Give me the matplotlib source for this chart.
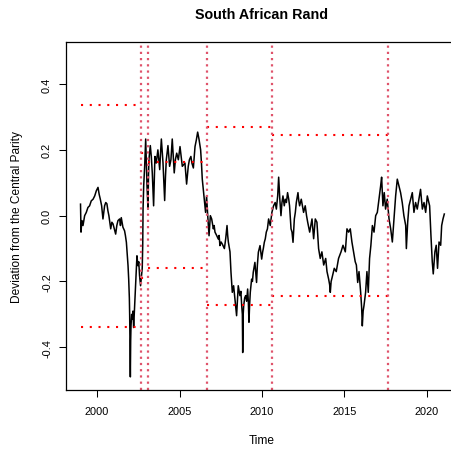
import matplotlib
matplotlib.use("Agg")
import matplotlib.pyplot as plt

plt.rcParams['font.family'] = ['Liberation Sans', 'DejaVu Sans']

title = "South African Rand"
xlabel = "Time"
ylabel = "Deviation from the Central Parity"

time = [1999.00, 1999.03, 1999.08, 1999.15, 1999.25, 1999.35, 1999.45, 1999.55, 1999.65, 1999.76,
        1999.86, 1999.96, 2000.06, 2000.13, 2000.20, 2000.28, 2000.36, 2000.46, 2000.53, 2000.60,
        2000.66, 2000.72, 2000.83, 2000.90, 2000.97, 2001.05, 2001.13, 2001.20, 2001.27, 2001.37,
        2001.42, 2001.47, 2001.57, 2001.67, 2001.72, 2001.78, 2001.82, 2001.88, 2001.92, 2001.96,
        2001.98, 2002.00, 2002.02, 2002.04, 2002.06, 2002.10, 2002.14, 2002.18, 2002.22, 2002.28,
        2002.34, 2002.38, 2002.42, 2002.48, 2002.53, 2002.58, 2002.64, 2002.70, 2002.74, 2002.77,
        2002.79, 2002.83, 2002.89, 2002.95, 2003.00, 2003.03, 2003.09, 2003.12, 2003.15, 2003.23,
        2003.29, 2003.35, 2003.43, 2003.47, 2003.51, 2003.59, 2003.69, 2003.80, 2003.85, 2003.90,
        2004.00, 2004.10, 2004.15, 2004.20, 2004.30, 2004.40, 2004.48, 2004.56, 2004.62, 2004.68,
        2004.75, 2004.83, 2004.93, 2005.03, 2005.10, 2005.17, 2005.33, 2005.43, 2005.53, 2005.60,
        2005.69, 2005.75, 2005.84, 2005.94, 2006.02, 2006.10, 2006.18, 2006.28, 2006.33, 2006.38,
        2006.44, 2006.50, 2006.58, 2006.64, 2006.71, 2006.79, 2006.87, 2006.95, 2007.05, 2007.10,
        2007.15, 2007.25, 2007.35, 2007.40, 2007.45, 2007.52, 2007.59, 2007.72, 2007.80, 2007.88,
        2007.92, 2007.96, 2008.06, 2008.12, 2008.20, 2008.28, 2008.36, 2008.46, 2008.52, 2008.56,
        2008.66, 2008.72, 2008.77, 2008.81, 2008.83, 2008.86, 2008.89, 2008.95, 2009.01, 2009.07,
        2009.13, 2009.17, 2009.21, 2009.25, 2009.29, 2009.37, 2009.42, 2009.47, 2009.57, 2009.67,
        2009.72, 2009.78, 2009.88, 2009.98, 2010.04, 2010.08, 2010.14, 2010.20, 2010.26, 2010.33,
        2010.40, 2010.50, 2010.60, 2010.70, 2010.80, 2010.87, 2010.95, 2011.01, 2011.08, 2011.15,
        2011.21, 2011.27, 2011.35, 2011.41, 2011.48, 2011.55, 2011.62, 2011.67, 2011.76, 2011.82,
        2011.88, 2011.96, 2012.02, 2012.08, 2012.18, 2012.23, 2012.28, 2012.38, 2012.45, 2012.52,
        2012.62, 2012.70, 2012.77, 2012.89, 2012.96, 2013.03, 2013.08, 2013.13, 2013.23, 2013.33,
        2013.43, 2013.53, 2013.63, 2013.74, 2013.86, 2013.94, 2014.04, 2014.10, 2014.14, 2014.19,
        2014.24, 2014.38, 2014.50, 2014.64, 2014.79, 2014.91, 2015.05, 2015.15, 2015.25, 2015.35,
        2015.45, 2015.55, 2015.65, 2015.72, 2015.80, 2015.88, 2015.98, 2016.04, 2016.08, 2016.13,
        2016.18, 2016.28, 2016.36, 2016.44, 2016.52, 2016.60, 2016.69, 2016.79, 2016.89, 2016.99,
        2017.09, 2017.19, 2017.25, 2017.33, 2017.41, 2017.49, 2017.59, 2017.70, 2017.80, 2017.90,
        2018.00, 2018.10, 2018.20, 2018.30, 2018.40, 2018.50, 2018.60, 2018.71, 2018.75, 2018.83,
        2018.91, 2019.01, 2019.11, 2019.21, 2019.31, 2019.41, 2019.51, 2019.61, 2019.72, 2019.82,
        2019.92, 2020.02, 2020.16, 2020.24, 2020.32, 2020.38, 2020.48, 2020.56, 2020.64, 2020.73,
        2020.83, 2020.89, 2020.97, 2021.05]

deviation = [0.035, -0.050, -0.015, -0.030, 0.000, 0.010, 0.025, 0.030, 0.045, 0.050,
             0.060, 0.076, 0.086, 0.065, 0.050, 0.030, -0.010, 0.030, 0.040, 0.036,
             0.015, 0.000, -0.040, -0.020, -0.025, -0.040, -0.056, -0.030, -0.015, -0.010,
             -0.030, -0.006, -0.035, -0.046, -0.060, -0.081, -0.111, -0.152, -0.193, -0.250,
             -0.304, -0.395, -0.490, -0.380, -0.335, -0.300, -0.315, -0.290, -0.340, -0.274,
             -0.213, -0.170, -0.122, -0.152, -0.140, -0.183, -0.213, -0.183, -0.160, -0.091,
             0.020, 0.091, 0.152, 0.233, 0.150, 0.091, 0.020, 0.120, 0.172, 0.213,
             0.180, 0.130, 0.030, 0.110, 0.180, 0.160, 0.200, 0.140, 0.190, 0.233,
             0.160, 0.046, 0.120, 0.170, 0.213, 0.150, 0.170, 0.233, 0.180, 0.130,
             0.170, 0.190, 0.170, 0.210, 0.180, 0.150, 0.160, 0.096, 0.150, 0.170,
             0.180, 0.160, 0.145, 0.210, 0.230, 0.254, 0.233, 0.200, 0.160, 0.111,
             0.080, 0.050, 0.010, 0.060, 0.000, -0.061, 0.000, -0.010, -0.040, -0.030,
             -0.050, -0.060, -0.071, -0.060, -0.091, -0.080, -0.086, -0.100, -0.070, -0.030,
             -0.060, -0.080, -0.110, -0.172, -0.233, -0.213, -0.254, -0.304, -0.250, -0.213,
             -0.243, -0.230, -0.274, -0.300, -0.416, -0.300, -0.274, -0.250, -0.243, -0.260,
             -0.223, -0.260, -0.324, -0.270, -0.233, -0.193, -0.200, -0.172, -0.142, -0.203,
             -0.150, -0.111, -0.091, -0.132, -0.110, -0.100, -0.081, -0.070, -0.050, -0.040,
             -0.010, -0.030, 0.010, 0.030, 0.040, 0.020, 0.060, 0.117, 0.050, 0.000,
             0.040, 0.060, 0.030, 0.050, 0.040, 0.070, 0.050, 0.030, -0.040, -0.050,
             -0.081, -0.010, 0.010, 0.040, 0.070, 0.045, 0.030, 0.050, 0.030, 0.010,
             0.030, 0.000, -0.020, -0.050, -0.030, -0.010, -0.040, -0.070, -0.010, -0.020,
             -0.100, -0.130, -0.110, -0.150, -0.130, -0.170, -0.193, -0.210, -0.233, -0.200,
             -0.190, -0.160, -0.170, -0.130, -0.110, -0.090, -0.110, -0.040, -0.050, -0.040,
             -0.080, -0.110, -0.140, -0.150, -0.203, -0.170, -0.233, -0.280, -0.335, -0.290,
             -0.274, -0.233, -0.170, -0.233, -0.130, -0.090, -0.030, -0.050, 0.000, 0.010,
             0.050, 0.090, 0.117, 0.030, 0.070, 0.020, 0.050, -0.010, -0.040, -0.080,
             -0.010, 0.060, 0.111, 0.090, 0.070, 0.040, 0.000, -0.030, -0.100, -0.020,
             0.030, 0.050, 0.070, 0.010, 0.040, 0.020, 0.050, 0.080, 0.020, 0.040,
             0.010, 0.060, 0.030, -0.060, -0.140, -0.177, -0.110, -0.090, -0.160, -0.080,
             -0.090, -0.030, -0.010, 0.005]

# regime breaks (vertical lines)
breaks = [2002.68, 2003.07, 2006.67, 2010.62, 2017.61]

# band segments: start, end, upper, lower
band_start = [1999.00, 2002.68, 2003.07, 2006.67, 2010.62]
band_end = [2002.68, 2003.07, 2006.67, 2010.62, 2017.61]
band_upper = [0.337, 0.192, 0.162, 0.269, 0.245]
band_lower = [-0.338, -0.190, -0.160, -0.271, -0.243]

xticks = [2000, 2005, 2010, 2015, 2020]
yticks = [-0.4, -0.2, 0.0, 0.2, 0.4]
ytick_labels = ["-0.4", "-0.2", "0.0", "0.2", "0.4"]

W, H = 452, 452
fig = plt.figure(figsize=(W / 100, H / 100), dpi=100)
left, right, top, bottom = 66.0, 458.0, 43.3, 390.7
ax = fig.add_axes([left / W, 1 - bottom / H, (right - left) / W, (bottom - top) / H])

ax.plot(time, deviation, color='black', lw=1.1)

for s, e, u, l in zip(band_start, band_end, band_upper, band_lower):
    ax.plot([s, e], [u, u], color='#FF0000', lw=1.5, linestyle=(0, (1, 3.2)))
    ax.plot([s, e], [l, l], color='#FF0000', lw=1.5, linestyle=(0, (1, 3.2)))

for b in breaks:
    ax.axvline(b, color='#DF536B', lw=1.6, linestyle=(0, (1, 1.8)))

ax.set_xlim(1998.12, 2021.88)
ax.set_ylim(-0.529, 0.527)

ax.set_xticks(xticks)
ax.set_xticklabels([str(t) for t in xticks], fontsize=7.9)
ax.set_yticks(yticks)
ax.set_yticklabels(ytick_labels, fontsize=7.9, rotation=90, va='center')
ax.tick_params(axis='both', direction='out', length=5, width=0.75, pad=7, colors='black')
ax.tick_params(axis='y', pad=5)

for sp in ax.spines.values():
    sp.set_linewidth(0.9)
    sp.set_color('black')

fig.text(261.5 / W, 1 - 15 / H, title, fontsize=10.3, fontweight='bold', ha='center', va='center')
fig.text(261.5 / W, 1 - 441.5 / H, xlabel, fontsize=8.6, ha='center', va='center')
fig.text(17 / W, 1 - 216.7 / H, ylabel, fontsize=8.6, ha='center', va='center', rotation=90)

fig.savefig("out.png", dpi=100)
